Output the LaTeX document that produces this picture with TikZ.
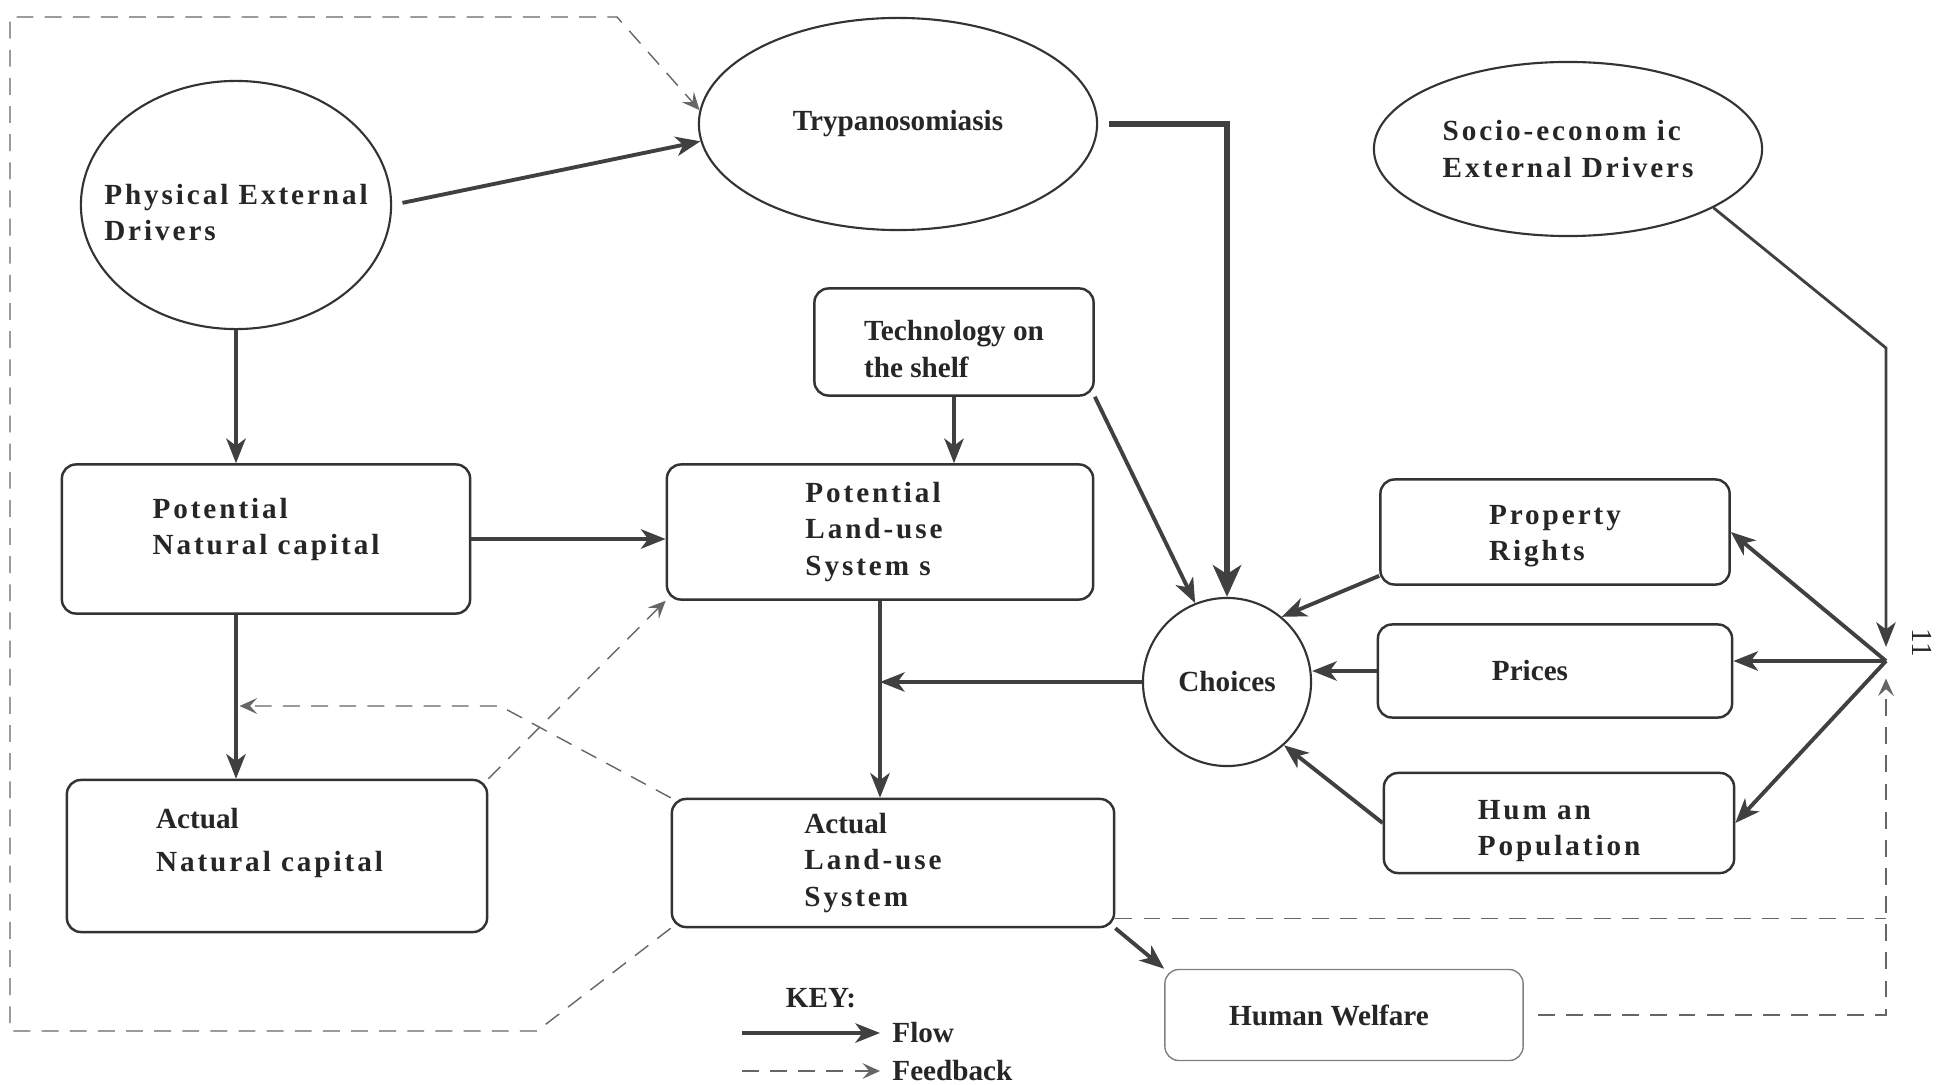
\documentclass[tikz,border=0pt]{standalone}
\usepackage{fontspec}
\setmainfont{Liberation Serif}
\newfontfamily\spaced[LetterSpace=10]{Liberation Serif}
\usetikzlibrary{shapes.geometric,arrows.meta}

\tikzset{
  lbl/.style={font=\fontsize{8.3}{10.3}\selectfont\bfseries, text=black!85},
  box/.style={lbl, draw=black!80, line width=0.7pt, rounded corners=4pt, align=left, inner sep=0pt},
  oval/.style={lbl, draw=black!80, line width=0.6pt, ellipse, align=left, inner sep=0pt},
  flow/.style={draw=black!75, line width=1.1pt, -{Stealth[length=7pt,width=5.5pt,inset=2pt]}},
  bigflow/.style={draw=black!75, line width=1.6pt, -{Stealth[length=9pt,width=8pt,inset=2.5pt]}},
  fbline/.style={draw=black!60, line width=0.4pt, dash pattern=on 4.8pt off 3.2pt},
  feedback/.style={fbline, -{Stealth[length=5pt,width=4.5pt,inset=2pt]}},
}

\begin{document}
\begin{tikzpicture}[x=0.01cm, y=-0.01cm]
  \useasboundingbox (0,0) rectangle (1948,1085);

  \node[oval, inner xsep=-0.23cm, minimum width=3.10cm, minimum height=2.48cm] (phys) at (236,205) {\rule{0pt}{10pt}{\spaced Physical External}\\{\spaced Drivers}};
  \node[oval, minimum width=3.98cm, minimum height=2.12cm] (tryp) at (898,124) {Trypanosomiasis};
  \node[oval, minimum width=3.88cm, minimum height=1.74cm] (socio) at (1568,149) {{\spaced Socio-econom ic}\\{\spaced External Drivers}};
  \node[box, minimum width=2.79cm, minimum height=1.07cm] (tech) at (954,342) {\rule{0pt}{9.8pt}Technology on\\the shelf};
  \node[box, minimum width=4.08cm, minimum height=1.49cm] (potnat) at (266,539) {{\spaced Potential}\\{\spaced Natural capital}\rule[-7pt]{0pt}{7pt}};
  \node[box, minimum width=4.26cm, minimum height=1.35cm] (potland) at (880,532) {{\spaced Potential}\rule{0.12cm}{0pt}\\{\spaced Land-use}\rule{0.12cm}{0pt}\\{\spaced System s}\rule{0.12cm}{0pt}};
  \node[box, minimum width=4.20cm, minimum height=1.52cm] (actnat) at (277,856) {Actual\\[2pt]{\spaced Natural capital}\hspace*{0.15cm}\rule[-9.3pt]{0pt}{9.3pt}};
  \node[box, minimum width=4.42cm, minimum height=1.28cm] (actland) at (893,863) {Actual\rule{0.4cm}{0pt}\\{\spaced Land-use}\rule{0.4cm}{0pt}\\{\spaced System}\rule{0.4cm}{0pt}};
  \node[lbl, draw=black!80, line width=0.6pt, circle, inner sep=0pt, minimum size=1.68cm] (choices) at (1227,682) {Choices};
  \node[box, minimum width=3.49cm, minimum height=1.05cm] (prop) at (1555,532) {\rule{0pt}{7.7pt}{\spaced Property}\\{\spaced Rights}};
  \node[box, minimum width=3.54cm, minimum height=0.93cm] (prices) at (1555,671) {Prices\hspace*{0.5cm}};
  \node[box, minimum width=3.50cm, minimum height=1.00cm] (humpop) at (1559,823) {\rule{0pt}{10pt}{\spaced Hum an}\\{\spaced Population}};
  \node[box, draw=black!50, line width=0.4pt, minimum width=3.58cm, minimum height=0.91cm] (welfare) at (1344,1015) {Human Welfare\hspace*{0.3cm}};
  \node[font=\fontsize{8.3}{10}\selectfont, text=black!85, rotate=-90] (pageno) at (1922,643) {11};

  \coordinate (hub) at (1886,661);
  \coordinate (sbend) at (1886,348);
  \coordinate (fbk) at (500,706);

  \draw[flow, shorten <=3pt] (phys.east) -- (tryp.185);
  \draw[flow] (phys.south) -- (phys.south |- potnat.north);
  \draw[flow] (potnat.east) -- (potnat.east -| potland.west);
  \draw[flow] (phys.south |- potnat.south) -- (phys.south |- actnat.north);
  \draw[flow] (tech.south) -- (tech.south |- potland.north);
  \draw[flow] (potland.south) -- (potland.south |- actland.north);
  \draw[flow] (choices.west) -- (choices.west -| potland.south);
  \draw[flow] (tech.south east) -- (choices.112);
  \draw[bigflow, shorten <=3pt] (tryp.east) -| (choices.north);
  \draw[flow, line width=0.8pt, shorten >=4pt] (socio.-22) -- (sbend) -- (hub);
  \draw[flow] (hub) -- (prop.east);
  \draw[flow] (hub) -- (hub -| prices.east);
  \draw[flow] (hub) -- (humpop.east);
  \draw[flow] (prop.194) -- (choices.50);
  \draw[flow] (prices.west) -- (prices.west -| choices.east);
  \draw[flow] (humpop.west) -- (choices.-48);
  \draw[flow] (actland.south east) -- (welfare.north west);

  \draw[feedback] (actland.south west) -- (537,1031) -- (10,1031) -- (10,17) -- (617,17) -- (tryp.176);
  \draw[feedback] (actnat.north east) -- (potland.south west);
  \draw[feedback, shorten >=1pt] (actland.north west) -- (fbk) -- (fbk -| phys.south);
  \draw[fbline] (actland.-14) -- (actland.-14 -| hub);
  \draw[feedback, shorten <=4pt, shorten >=5pt] (welfare.east) -| (hub);

  \node[lbl] (key) at (821,998) {KEY:};
  \node[lbl, anchor=west] (flowlbl) at (880,1033) {Flow};
  \node[lbl, anchor=west] (fbklbl) at (880,1071) {Feedback};
  \draw[flow] (742,1033) -- (flowlbl.west);
  \draw[feedback] (742,1071) -- (fbklbl.west);
\end{tikzpicture}
\end{document}
